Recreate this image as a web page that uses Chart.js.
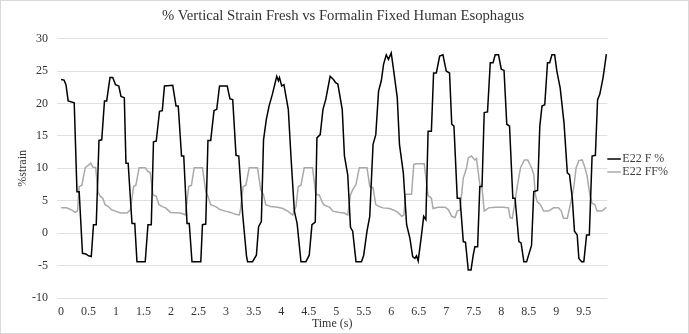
<!DOCTYPE html>
<html>
<head>
<meta charset="utf-8">
<script src="https://cdn.jsdelivr.net/npm/chart.js@4"></script>
<style>
  html, body { margin: 0; padding: 0; background: #fff; }
  #wrap { position: relative; width: 689px; height: 334px; }
  #frame { position: absolute; left: 0; top: 0; width: 689px; height: 334px; box-sizing: border-box; border: 1px solid #d9d9d9; pointer-events: none; }
</style>
</head>
<body>
<div id="wrap"><canvas id="c" width="689" height="334"></canvas><div id="frame"></div></div>
<script>
// ---- Data ----
const fTime = [0,0.055,0.09,0.13,0.24,0.29,0.33,0.39,0.45,0.50,0.55,0.59,0.64,0.69,0.74,0.79,0.83,0.89,0.94,0.99,1.05,1.09,1.15,1.18,1.22,1.29,1.34,1.38,1.53,1.58,1.64,1.68,1.73,1.79,1.84,1.88,2.03,2.09,2.13,2.19,2.23,2.29,2.33,2.38,2.54,2.57,2.63,2.67,2.72,2.78,2.83,2.88,3.02,3.07,3.12,3.18,3.23,3.30,3.37,3.39,3.48,3.55,3.59,3.64,3.68,3.73,3.78,3.84,3.92,3.95,3.97,4.01,4.05,4.13,4.18,4.24,4.29,4.36,4.45,4.51,4.56,4.62,4.65,4.71,4.76,4.81,4.89,4.95,4.99,5.03,5.11,5.15,5.21,5.26,5.30,5.36,5.46,5.50,5.56,5.61,5.67,5.72,5.77,5.82,5.86,5.91,5.95,6.00,6.03,6.11,6.15,6.22,6.28,6.34,6.39,6.43,6.46,6.49,6.55,6.59,6.63,6.67,6.73,6.77,6.82,6.88,6.94,7.00,7.06,7.10,7.14,7.20,7.25,7.31,7.35,7.40,7.45,7.49,7.52,7.57,7.61,7.65,7.69,7.75,7.80,7.85,7.89,7.95,8.00,8.05,8.10,8.15,8.21,8.25,8.32,8.36,8.41,8.46,8.55,8.59,8.66,8.70,8.74,8.79,8.84,8.88,8.92,8.97,9.01,9.07,9.14,9.20,9.24,9.29,9.33,9.38,9.41,9.46,9.50,9.55,9.60,9.65,9.71,9.75,9.79,9.85,9.91];
const fStrain = [23.7,23.6,22.9,20.4,20.1,6.4,6.4,-3.1,-3.2,-3.5,-3.6,1.3,1.3,14.3,14.4,20.4,20.4,24.0,24.0,22.9,22.7,21.1,20.9,10.8,10.8,1.5,1.5,-4.4,-4.4,1.3,1.3,14.1,14.2,18.8,18.9,22.7,22.8,19.6,19.6,11.9,11.9,1.5,1.5,-4.4,-4.4,1.3,1.4,14.3,14.3,18.9,19.1,22.7,22.7,20.7,20.6,12.0,11.9,3.0,-3.5,-4.4,-4.4,-3.4,1.0,1.8,14.4,17.5,19.6,21.4,24.2,23.5,24.0,22.7,22.9,19.1,11.6,3.4,1.5,-4.4,-4.4,-3.4,1.3,1.7,14.7,15.2,19.1,20.6,24.2,23.7,23.2,23.0,19.1,11.9,9.0,0.9,0.3,-4.4,-4.4,-3.4,0.3,2.6,13.7,15.2,21.9,23.5,26.0,27.5,26.8,27.8,26.0,20.9,13.7,9.3,1.3,-0.8,-3.6,-3.9,-3.5,-4.3,-0.3,2.6,2.1,15.7,15.7,24.7,24.7,27.3,27.5,25.0,24.7,16.8,16.5,5.4,5.4,-1.3,-1.4,-5.7,-5.7,-3.4,-2.1,-2.1,7.2,7.2,18.6,18.7,26.3,26.3,27.5,27.5,25.3,25.1,16.8,16.5,5.4,5.4,-1.3,-1.5,-4.4,-4.4,-1.9,6.4,6.6,16.5,19.6,19.8,26.3,26.3,27.5,27.5,25.0,22.4,17.0,9.3,9.0,5.4,0.3,-0.3,-3.9,-4.4,-4.4,-0.3,-0.3,11.9,12.0,20.6,21.4,24.0,27.6];

const ffTime = [0,0.10,0.19,0.26,0.30,0.33,0.38,0.44,0.50,0.54,0.58,0.63,0.67,0.71,0.76,0.80,0.86,0.92,0.99,1.08,1.20,1.26,1.32,1.36,1.42,1.53,1.58,1.62,1.67,1.73,1.78,1.84,1.90,1.99,2.17,2.26,2.32,2.37,2.42,2.57,2.63,2.67,2.72,2.81,2.90,2.99,3.08,3.17,3.24,3.26,3.31,3.36,3.42,3.57,3.63,3.68,3.72,3.81,3.94,4.03,4.12,4.21,4.27,4.31,4.36,4.42,4.57,4.63,4.69,4.77,4.85,4.88,4.94,5.06,5.15,5.21,5.26,5.30,5.36,5.42,5.56,5.61,5.67,5.72,5.78,5.85,5.97,6.06,6.12,6.19,6.23,6.26,6.37,6.41,6.46,6.60,6.67,6.73,6.76,6.85,6.98,7.04,7.10,7.16,7.20,7.25,7.31,7.37,7.40,7.46,7.52,7.55,7.61,7.65,7.69,7.77,7.89,8.04,8.13,8.16,8.20,8.25,8.29,8.35,8.42,8.48,8.55,8.59,8.62,8.65,8.71,8.77,8.86,8.95,9.04,9.09,9.13,9.20,9.26,9.32,9.36,9.41,9.47,9.52,9.56,9.61,9.65,9.70,9.74,9.83,9.91];
const ffStrain = [3.9,3.9,3.6,3.2,3.4,7.2,7.4,10.1,10.5,10.8,10.2,10.1,6.4,5.7,5.4,4.4,4.1,3.6,3.4,3.1,3.1,3.6,7.2,7.4,10.1,10.1,9.5,9.4,5.9,5.7,4.4,4.1,3.9,3.2,3.1,2.8,7.2,7.4,10.1,10.1,6.4,5.7,4.4,4.1,3.6,3.4,3.2,2.9,2.8,3.6,7.2,7.4,10.1,10.1,6.7,5.9,4.4,4.1,4.0,3.8,3.4,2.8,4.1,7.2,7.4,10.1,10.1,6.0,5.9,4.4,4.1,4.0,3.4,3.2,3.1,2.8,5.9,6.7,7.5,10.1,10.1,7.2,7.0,4.4,4.1,3.9,3.8,3.5,3.2,2.6,2.8,6.0,6.0,10.6,10.7,10.7,5.8,5.4,3.8,4.0,4.0,3.6,2.6,2.4,3.4,3.6,8.5,10.1,11.6,11.9,11.3,11.5,7.5,7.0,3.4,3.9,4.0,4.0,3.9,2.4,2.3,4.9,7.2,10.1,11.3,11.3,10.1,9.1,5.9,4.9,4.4,3.4,3.4,3.9,3.9,3.4,2.3,2.3,4.6,7.2,10.1,11.2,11.3,10.1,8.8,5.9,4.6,4.4,3.4,3.4,4.0];

const xTickLabels = [0,0.5,1,1.5,2,2.5,3,3.5,4,4.5,5,5.5,6,6.5,7,7.5,8,8.5,9,9.5];
const yTicks = [-10,-5,0,5,10,15,20,25,30];
const seriesNames = ['E22 F %', 'E22 FF%'];
const titleText = '% Vertical Strain Fresh vs Formalin Fixed Human Esophagus';
const xTitle = 'Time (s)';
const yTitle = '%strain';

const toPts = (xs, ys) => xs.map((x, i) => ({ x: x, y: ys[i] }));
const serif = "'Liberation Serif', 'Times New Roman', serif";

new Chart(document.getElementById('c'), {
  type: 'line',
  data: {
    datasets: [
      { label: seriesNames[0], data: toPts(fTime, fStrain), borderColor: '#000000', backgroundColor: '#000000', borderWidth: 1.5, pointRadius: 0, tension: 0 },
      { label: seriesNames[1], data: toPts(ffTime, ffStrain), borderColor: '#a9a9a9', backgroundColor: '#a9a9a9', borderWidth: 1.5, pointRadius: 0, tension: 0 }
    ]
  },
  options: {
    responsive: false,
    animation: false,
    events: [],
    layout: { padding: { left: 8, right: 11, top: 0, bottom: 3 } },
    plugins: {
      title: { display: true, text: titleText, color: '#333333', font: { family: serif, size: 14.7, weight: 'normal' }, padding: { top: 7, bottom: 14 } },
      legend: {
        position: 'right',
        labels: { usePointStyle: true, pointStyle: 'line', boxWidth: 8, padding: 1, color: '#404040', font: { family: serif, size: 12, lineHeight: 1.1 } }
      },
      tooltip: { enabled: false }
    },
    scales: {
      x: {
        type: 'linear', min: -0.073, max: 9.927,
        afterBuildTicks: s => { s.ticks = xTickLabels.map(v => ({ value: v })); },
        afterFit: s => { s.height = 33; },
        grid: { display: false, drawTicks: false },
        border: { display: false },
        ticks: { color: '#333333', font: { family: serif, size: 12 }, padding: 7, maxRotation: 0, autoSkip: false, callback: v => String(v) },
        title: { display: true, text: xTitle, color: '#333333', font: { family: serif, size: 12 }, padding: { top: 0, bottom: 0 } }
      },
      y: {
        min: -10, max: 30,
        afterBuildTicks: s => { s.ticks = yTicks.map(v => ({ value: v })); },
        afterFit: s => { s.width = 49; },
        grid: { color: '#e0e0e0', lineWidth: 1, drawTicks: false },
        border: { display: false },
        ticks: { color: '#333333', font: { family: serif, size: 12 }, padding: 9, callback: v => String(v) },
        title: { display: true, text: yTitle, color: '#333333', font: { family: serif, size: 12 }, padding: { top: 8, bottom: 0 } }
      }
    }
  }
});
</script>
</body>
</html>
